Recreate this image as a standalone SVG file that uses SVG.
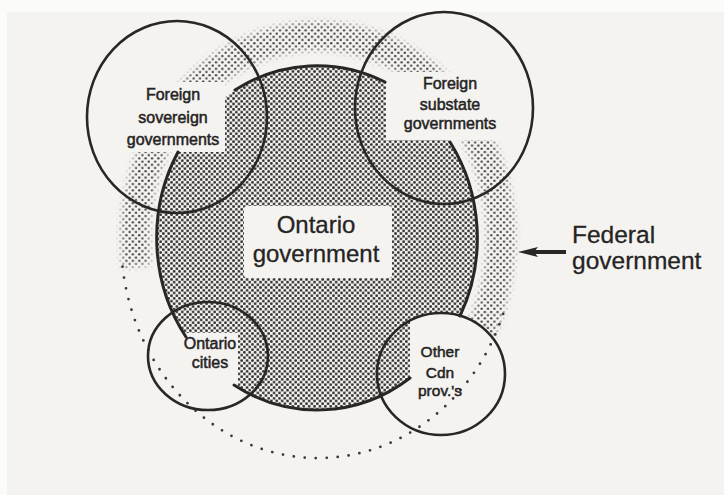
<svg xmlns="http://www.w3.org/2000/svg" width="724" height="495" viewBox="0 0 724 495">
<defs>
<style>
.paper{fill:#f4f3f0}
.ln{fill:none;stroke:#2a2626;stroke-width:2.6;stroke-linecap:round}
.ont{fill:none;stroke:#2a2626;stroke-width:3;stroke-linecap:round}
.dotline{fill:none;stroke:#3a3838;stroke-width:2.8;stroke-linecap:round;stroke-dasharray:0 11}
.lbl{font-family:"Liberation Sans",Arial,Helvetica,sans-serif;fill:#252323;text-anchor:middle}
.sm{font-size:16px;stroke:#252323;stroke-width:0.5}
.big{font-size:24px;stroke:#252323;stroke-width:0.3}
.left{text-anchor:start}
</style>
<pattern id="dk" width="5.4" height="5.4" patternUnits="userSpaceOnUse">
<circle cx="1.35" cy="1.35" r="1.4" fill="#343233"/>
<circle cx="4.05" cy="4.05" r="1.4" fill="#343233"/>
</pattern>
<pattern id="lt" width="6.4" height="6.4" patternUnits="userSpaceOnUse">
<circle cx="1.6" cy="1.6" r="1.2" fill="#444242"/>
<circle cx="4.8" cy="4.8" r="1.2" fill="#444242"/>
</pattern>
<filter id="soft" x="-10%" y="-10%" width="120%" height="120%"><feGaussianBlur stdDeviation="3"/></filter>
<mask id="haloMask" maskUnits="userSpaceOnUse" x="0" y="0" width="724" height="495">
<path d="M136.8 266.1 A183 202 0 1 1 476.5 339" fill="none" stroke="#fff" stroke-width="28" filter="url(#soft)"/>
</mask>
<clipPath id="cSov"><ellipse cx="177" cy="117" rx="90" ry="96"/></clipPath>
<clipPath id="cSub"><ellipse cx="444" cy="108" rx="89" ry="96"/></clipPath>
<clipPath id="cCit"><ellipse cx="208" cy="356" rx="60" ry="54"/></clipPath>
<clipPath id="cOth"><ellipse cx="441" cy="374" rx="64" ry="61"/></clipPath>
<marker id="ah" viewBox="0 0 20 12" markerWidth="20" markerHeight="12" refX="4" refY="6" orient="auto" markerUnits="userSpaceOnUse">
<path d="M0 1 L20 6 L0 11 L4 6 Z" fill="#2a2626"/>
</marker>
</defs>

<rect class="paper" width="724" height="495"/>
<rect x="0" y="0" width="724" height="12" fill="#fbfbfa"/>
<rect x="0" y="0" width="7" height="495" fill="#fbfbfa"/>

<g id="federal-government">
<rect width="724" height="495" fill="url(#lt)" mask="url(#haloMask)"/>
</g>

<g id="ontario-government">
<ellipse cx="317" cy="238" rx="160" ry="172" fill="url(#dk)"/>
</g>

<g id="label-backgrounds">
<rect class="paper" x="105" y="82" width="120" height="70" clip-path="url(#cSov)"/>
<rect class="paper" x="386" y="72" width="150" height="68" clip-path="url(#cSub)"/>
<rect class="paper" x="140" y="333" width="98" height="100" clip-path="url(#cCit)"/>
<rect class="paper" x="410" y="305" width="100" height="140" clip-path="url(#cOth)"/>
<rect class="paper" x="244" y="206" width="148" height="72" rx="3"/>
</g>

<g id="ontario-outline">
<path class="ont" d="M235 90 A160 172 0 0 1 385 82"/>
<path class="ont" d="M450 142 A160 172 0 0 1 460 316"/>
<path class="ont" d="M410 378 A160 172 0 0 1 234 385"/>
<path class="ont" d="M186 337 A160 172 0 0 1 178 152"/>
</g>

<g id="federal-boundary">
<path class="dotline" d="M503.1 313.9 A197 219 0 0 1 121.7 258.1"/>
</g>

<g id="foreign-sovereign-governments">
<ellipse class="ln" cx="177" cy="117" rx="90" ry="96"/>
<text class="lbl sm" x="173" y="100">Foreign</text>
<text class="lbl sm" x="173" y="123">sovereign</text>
<text class="lbl sm" x="173" y="145">governments</text>
</g>

<g id="foreign-substate-governments">
<ellipse class="ln" cx="444" cy="108" rx="89" ry="96"/>
<text class="lbl sm" x="450" y="89">Foreign</text>
<text class="lbl sm" x="450" y="110">substate</text>
<text class="lbl sm" x="450" y="129">governments</text>
</g>

<g id="ontario-cities">
<ellipse class="ln" cx="208" cy="356" rx="60" ry="54"/>
<text class="lbl sm" x="210" y="349">Ontario</text>
<text class="lbl sm" x="210" y="368">cities</text>
</g>

<g id="other-cdn-provinces">
<ellipse class="ln" cx="441" cy="374" rx="64" ry="61"/>
<text class="lbl sm" x="440" y="357" style="font-size:15.5px">Other</text>
<text class="lbl sm" x="440" y="378" style="font-size:15.5px">Cdn</text>
<text class="lbl sm" x="440" y="396" style="font-size:15.5px">prov.'s</text>
</g>

<g id="ontario-label">
<text class="lbl big" x="316" y="233">Ontario</text>
<text class="lbl big" x="316" y="262">government</text>
</g>

<g id="federal-label">
<text class="lbl big left" x="572" y="243" style="font-size:24.5px">Federal</text>
<text class="lbl big left" x="572" y="269" style="font-size:24.5px">government</text>
</g>

<g id="connectors">
<path d="M566 252 H534" fill="none" stroke="#2a2626" stroke-width="4" marker-end="url(#ah)"/>
</g>
</svg>
